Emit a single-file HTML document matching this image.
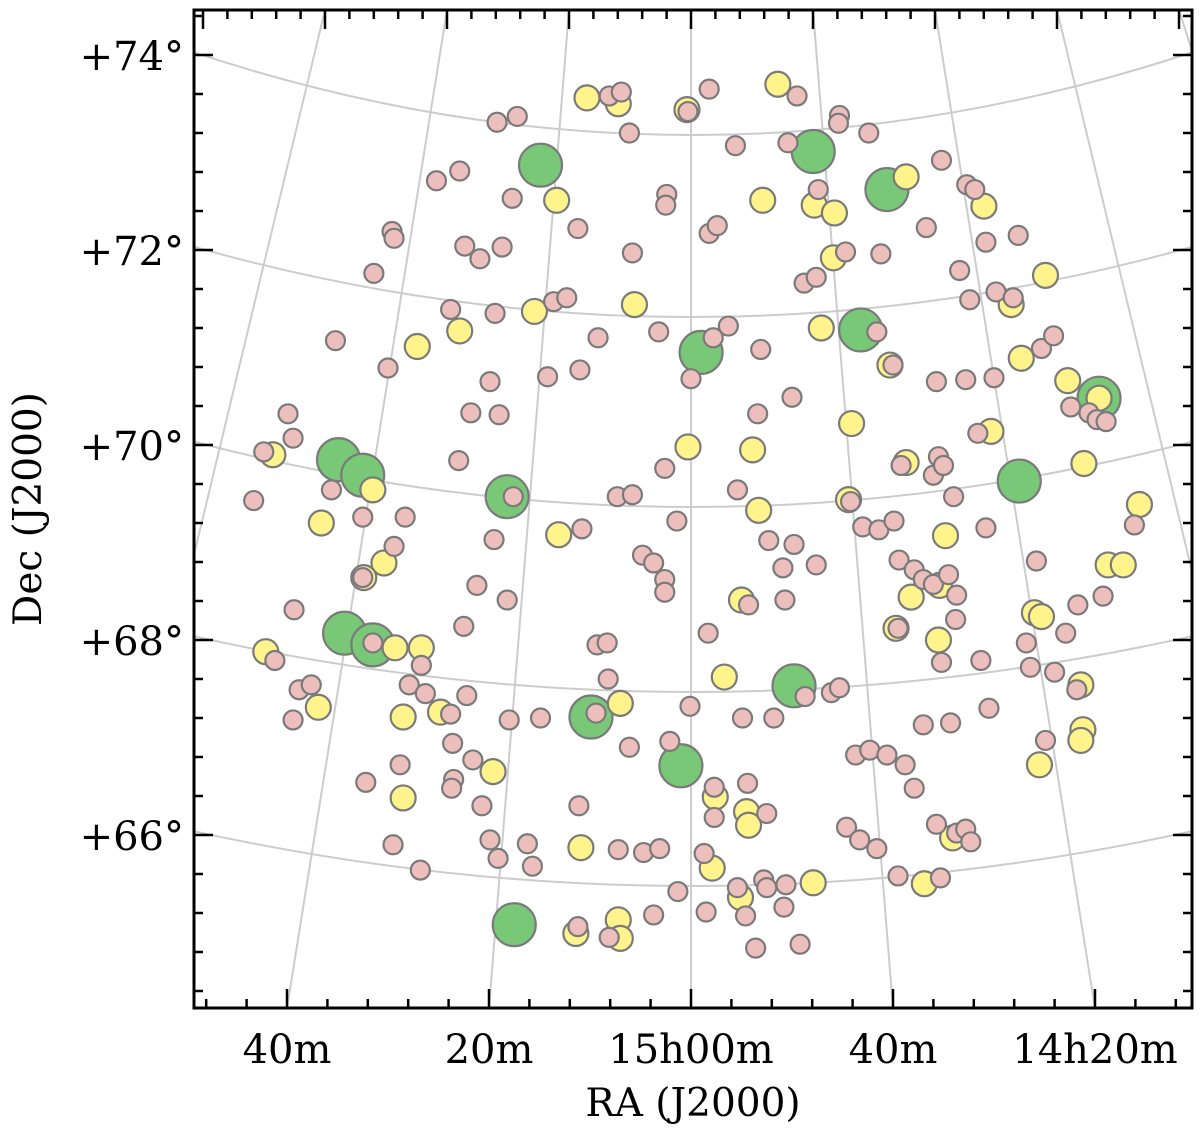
<!DOCTYPE html>
<html><head><meta charset="utf-8"><style>
html,body{margin:0;padding:0;background:#fff;}
svg text{font-family:"DejaVu Serif","Liberation Serif",serif;fill:#000;}
</style></head><body>
<svg id="chart" width="1200" height="1130" viewBox="0 0 1200 1130" xmlns="http://www.w3.org/2000/svg">
<g id="grid"></g>
<g id="marks"></g>
<g id="axes"></g>
</svg>
<script>
// RA offsets in minutes from 15h00m (positive = larger RA, leftwards); Dec in degrees
const greenRA=[14.9,-12.1,-19.4,-16.8,-1.0,-40.4,34.9,32.5,18.2,-32.5,34.3,31.5,9.9,-10.2,1.0,17.5];
const greenDec=[72.87,73.01,72.62,71.18,70.95,70.48,69.85,69.69,69.47,69.63,68.07,67.95,67.21,67.53,66.71,65.08];
const yellowRA=[10.3,7.2,0.4,-8.6,13.3,-7.1,-12.2,-14.2,-21.3,-29.0,-14.1,-35.1,-31.7,5.6,15.5,22.9,27.1,-12.9,-19.7,-37.3,-32.7,-15.9,-29.7,0.3,-38.9,-6.1,-44.4,-6.7,13.1,36.6,31.5,41.4,30.4,32.4,-25.2,-41.3,-42.8,-21.8,-24.6,-20.3,-24.5,-34.0,-34.7,-38.6,-38.8,-38.6,-34.5,-3.3,7.0,29.3,26.7,24.8,28.5,36.9,42.1,19.6,28.5,-2.4,-5.5,-5.7,-2.1,10.9,-4.9,-12.1,-25.9,-23.1,11.4,7.2,7.0,-5.0,-15.6,-21.3,-40.4];
const yellowDec=[73.56,73.50,73.44,73.70,72.51,72.51,72.46,72.38,72.75,72.45,71.92,71.74,71.44,71.44,71.37,71.17,71.01,71.20,70.82,70.66,70.89,70.22,70.14,69.98,69.81,69.95,69.39,69.33,69.08,69.20,69.54,69.90,68.79,68.64,69.07,68.77,68.77,68.44,68.56,68.12,68.00,68.28,68.24,67.54,67.08,66.97,66.72,67.62,67.35,67.92,67.92,67.26,67.21,67.31,67.88,66.65,66.38,66.39,66.24,66.10,65.66,65.87,65.36,65.51,65.97,65.50,64.99,65.13,64.94,68.41,69.44,69.82,70.48];
const pinkRA=[19.2,17.2,8.1,6.9,6.1,-1.8,-10.5,-14.7,-14.6,-17.6,-4.4,-9.6,25.2,22.9,17.7,2.4,2.5,-24.8,-27.3,-28.1,-12.6,29.6,29.4,11.2,18.7,22.4,20.9,5.8,-1.8,-2.6,-23.3,-29.2,-32.4,-15.3,-18.8,31.4,-11.2,-12.4,-26.6,-27.6,-30.2,-31.9,13.6,12.3,23.8,19.4,3.2,-3.7,-2.2,35.2,9.2,30.0,11.0,14.2,19.9,21.8,19.0,0.0,-6.9,-10.0,-6.6,-18.4,-20.0,-24.3,-27.2,-30.0,-34.7,-35.9,-37.6,-39.4,-40.2,-41.1,39.9,39.4,42.3,23.0,2.6,7.3,5.8,-4.6,17.6,32.5,35.6,43.3,28.3,19.5,10.8,1.4,-7.7,-10.2,-15.8,-17.0,-18.6,-20.1,-20.8,-24.5,-24.0,-25.0,-28.4,-26.0,-29.2,-43.9,-40.8,29.4,32.5,18.2,21.2,4.8,3.7,2.6,2.6,-9.1,-12.4,-9.3,-5.7,-20.6,-22.1,-23.0,-24.0,-26.3,-25.5,-34.2,-38.3,39.3,22.5,-1.7,9.3,8.3,-26.2,-24.8,-28.7,-33.2,-37.1,-33.6,-36.0,41.2,26.7,27.9,38.8,37.6,26.3,22.2,23.8,8.2,-5.1,-8.2,0.1,-11.3,-13.9,-14.7,-29.5,-25.7,-38.2,-35.1,39.4,18.0,14.9,9.4,6.1,2.1,23.6,28.8,32.2,21.6,23.5,23.7,20.7,-2.3,-5.6,-16.3,-17.7,-19.4,-21.2,-22.1,-23.0,29.5,26.8,19.9,19.1,16.2,15.7,11.1,7.2,4.7,3.1,-1.3,-2.3,-7.5,-15.4,-16.7,-18.4,-24.3,-26.3,-27.2,-27.7,1.3,-1.5,-4.6,-5.4,-7.2,-7.5,-9.4,-9.2,3.7,11.2,8.1,-6.4,-10.8,-24.7,-20.5,31.5,0.3,-20.5];
const pinkDec=[73.31,73.37,73.58,73.62,73.20,73.65,73.58,73.38,73.30,73.20,73.07,73.10,72.71,72.81,72.53,72.57,72.46,72.92,72.67,72.62,72.62,72.19,72.12,72.22,72.03,72.04,71.91,71.97,72.17,72.25,72.23,72.08,72.15,71.98,71.96,71.76,71.66,71.72,71.79,71.49,71.57,71.51,71.47,71.51,71.39,71.35,71.16,71.22,71.10,71.07,71.10,70.79,70.77,70.70,70.65,70.33,70.31,70.68,70.98,70.49,70.32,71.16,70.82,70.65,70.67,70.69,70.99,71.12,70.39,70.33,70.26,70.24,70.32,70.07,69.93,69.84,69.76,69.47,69.49,69.54,69.47,69.26,69.54,69.43,69.26,69.03,69.14,69.22,69.02,68.98,69.42,69.16,69.13,69.22,69.79,69.88,69.69,69.79,70.12,69.47,69.15,69.18,68.45,68.96,68.64,68.41,68.56,68.87,68.79,68.62,68.49,68.74,68.77,68.41,68.36,68.82,68.72,68.62,68.57,68.46,68.67,68.81,68.36,68.31,68.14,68.07,67.95,67.97,68.21,67.77,67.79,67.97,68.07,67.72,67.67,67.79,67.74,67.54,67.49,67.54,67.45,67.43,67.24,67.60,67.20,67.20,67.32,67.42,67.46,67.51,67.30,67.15,67.49,66.97,67.18,67.18,67.20,67.25,66.90,66.96,66.94,66.72,66.54,66.77,66.57,66.48,66.30,66.49,66.53,66.82,66.87,66.82,66.72,66.48,67.13,65.90,65.64,65.95,65.76,65.91,65.68,66.30,65.85,65.82,65.86,65.81,66.18,66.22,66.08,65.95,65.86,66.11,66.02,66.06,65.93,65.42,65.21,65.46,65.17,65.54,65.46,65.49,65.26,65.18,65.06,64.95,64.84,64.88,65.56,65.58,67.97,73.42,68.12];
const raTickLabels=["40m","20m","15h00m","40m","14h20m"];
const raTickValues=[40,20,0,-20,-40];
const decTickLabels=["+74°","+72°","+70°","+68°","+66°"];
const decTickValues=[74,72,70,68,66];

const L=194,R=1192,T=10,B=1008,X0=691,XS=10.1,Y0=445,YS=97.5;
const xOf=ra=>X0-XS*ra;
const yOf=dec=>Y0-YS*(dec-70);
const NS="http://www.w3.org/2000/svg";
function mk(tag,attrs,parent){const e=document.createElementNS(NS,tag);for(const k in attrs)e.setAttribute(k,attrs[k]);parent.appendChild(e);return e;}
const grid=document.getElementById('grid'),marks=document.getElementById('marks'),axes=document.getElementById('axes');

const defs=mk('defs',{},document.getElementById('chart'));
const cp=mk('clipPath',{id:'clip'},defs);mk('rect',{x:L,y:T,width:R-L,height:B-T},cp);
grid.setAttribute('clip-path','url(#clip)');marks.setAttribute('clip-path','url(#clip)');

const sag={74:83,72:70,70:65,68:55,66:54};
[74,72,70,68,66].forEach(d=>{
  const ye=yOf(d),yc=ye+sag[d];
  const p=mk('path',{d:`M${L-10},${ye-6} Q${X0},${2*yc-ye} ${R+10},${ye-6}`,fill:'none',stroke:'#cccccc','stroke-width':2},grid);
  
  
});
[60,40,20,0,-20,-40,-60,-80].forEach(r=>{
  const xt=X0-6.1*r,xb=X0-XS*r;
  const l=mk('line',{x1:xt,y1:T,x2:xb,y2:B,stroke:'#cccccc','stroke-width':2},grid);
  
  
});

function drawSet(ras,decs,r,fill,name){
  for(let i=0;i<ras.length;i++){
    const c=mk('circle',{cx:xOf(ras[i]),cy:yOf(decs[i]),r:r,fill:fill,stroke:'#7a7a7a','stroke-width':2.2},marks);
    
    
  }
}
drawSet(greenRA,greenDec,21.5,'#78c878','green-source');
drawSet(yellowRA,yellowDec,12.5,'#fff38c','yellow-source');
drawSet(pinkRA,pinkDec,9.5,'#ecbfbd','pink-source');

const fr=mk('rect',{x:L,y:T,width:R-L,height:B-T,fill:'none',stroke:'#000','stroke-width':3},axes);


for(let m=48;m>=-48;m-=4){
  const x=xOf(m);if(x<L+2||x>R-2)continue;
  const major=m%20===0;
  const t=mk('line',{x1:x,y1:B,x2:x,y2:B-(major?19:9),stroke:'#000','stroke-width':2.5},axes);
  
  
}
for(let m=-84;m<=84;m+=4){
  const xt=X0-6.1*m;if(xt<L+2||xt>R-2)continue;
  const major=m%20===0;
  const t2=mk('line',{x1:xt,y1:T,x2:xt,y2:T+(major?19:9),stroke:'#000','stroke-width':2.5},axes);
  
  
}
for(let k=0;k<=30;k++){
  const d=64.0+k*0.4;const y=yOf(d);if(y<T+2||y>B-2)continue;
  const major=Math.abs(d-Math.round(d))<1e-6&&Math.round(d)%2===0;
  const a=mk('line',{x1:L,y1:y,x2:L+(major?19:9),y2:y,stroke:'#000','stroke-width':2.5},axes);
  
  
  const b=mk('line',{x1:R,y1:y,x2:R-(major?19:9),y2:y,stroke:'#000','stroke-width':2.5},axes);
  
  
}
raTickLabels.forEach((s,i)=>{
  const t=mk('text',{x:xOf(raTickValues[i]),y:1063,'text-anchor':'middle','font-size':40},axes);
  t.textContent=s;
  
  
});
decTickLabels.forEach((s,i)=>{
  const t=mk('text',{x:184,y:yOf(decTickValues[i])+15,'text-anchor':'end','font-size':40},axes);
  t.textContent=s;
  
  
});
const xt=mk('text',{x:693,y:1116,'text-anchor':'middle','font-size':39},axes);
xt.textContent='RA (J2000)';


const yt=mk('text',{x:0,y:0,'text-anchor':'middle','font-size':39,transform:'translate(41,509) rotate(-90)'},axes);
yt.textContent='Dec (J2000)';


</script>
</body></html>
